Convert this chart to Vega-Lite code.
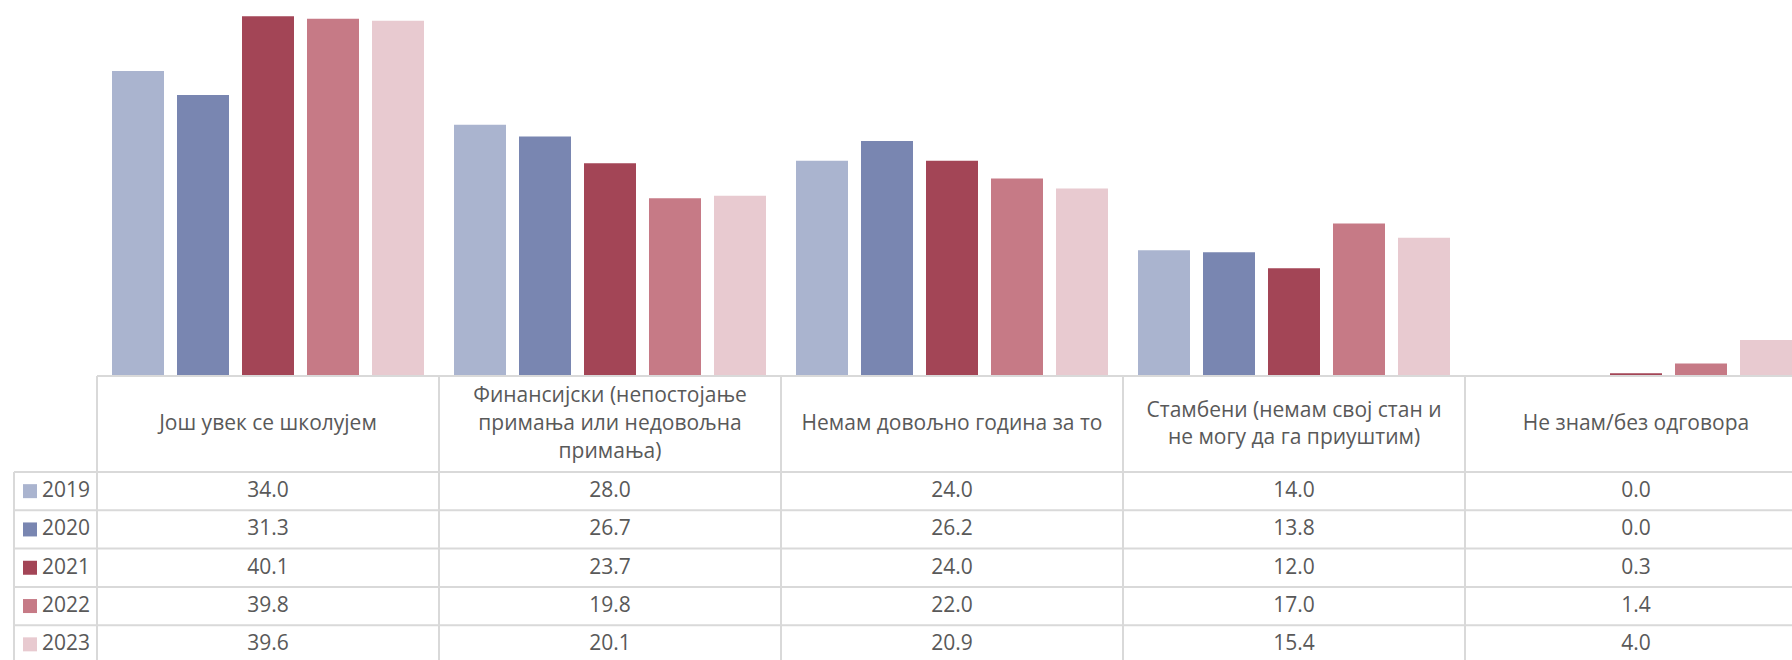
{
  "$schema": "https://vega.github.io/schema/vega-lite/v6.json",
  "padding": {"left": 13, "top": 0, "right": 0, "bottom": 0},
  "config": {"view": {"stroke": null}, "concat": {"spacing": 0}},
  "datasets": {
    "d": [
      {"cat": "Још увек се школујем", "year": "2019", "value": 34.0},
      {"cat": "Још увек се школујем", "year": "2020", "value": 31.3},
      {"cat": "Још увек се школујем", "year": "2021", "value": 40.1},
      {"cat": "Још увек се школујем", "year": "2022", "value": 39.8},
      {"cat": "Још увек се школујем", "year": "2023", "value": 39.6},
      {"cat": "Финансијски (непостојање примања или недовољна примања)", "year": "2019", "value": 28.0},
      {"cat": "Финансијски (непостојање примања или недовољна примања)", "year": "2020", "value": 26.7},
      {"cat": "Финансијски (непостојање примања или недовољна примања)", "year": "2021", "value": 23.7},
      {"cat": "Финансијски (непостојање примања или недовољна примања)", "year": "2022", "value": 19.8},
      {"cat": "Финансијски (непостојање примања или недовољна примања)", "year": "2023", "value": 20.1},
      {"cat": "Немам довољно година за то", "year": "2019", "value": 24.0},
      {"cat": "Немам довољно година за то", "year": "2020", "value": 26.2},
      {"cat": "Немам довољно година за то", "year": "2021", "value": 24.0},
      {"cat": "Немам довољно година за то", "year": "2022", "value": 22.0},
      {"cat": "Немам довољно година за то", "year": "2023", "value": 20.9},
      {"cat": "Стамбени (немам свој стан и не могу да га приуштим)", "year": "2019", "value": 14.0},
      {"cat": "Стамбени (немам свој стан и не могу да га приуштим)", "year": "2020", "value": 13.8},
      {"cat": "Стамбени (немам свој стан и не могу да га приуштим)", "year": "2021", "value": 12.0},
      {"cat": "Стамбени (немам свој стан и не могу да га приуштим)", "year": "2022", "value": 17.0},
      {"cat": "Стамбени (немам свој стан и не могу да га приуштим)", "year": "2023", "value": 15.4},
      {"cat": "Не знам/без одговора", "year": "2019", "value": 0.0},
      {"cat": "Не знам/без одговора", "year": "2020", "value": 0.0},
      {"cat": "Не знам/без одговора", "year": "2021", "value": 0.3},
      {"cat": "Не знам/без одговора", "year": "2022", "value": 1.4},
      {"cat": "Не знам/без одговора", "year": "2023", "value": 4.0}
    ],
    "cats": [
      {"cat": "Још увек се школујем", "label": "Још увек се школујем"},
      {"cat": "Финансијски (непостојање примања или недовољна примања)", "label": "Финансијски (непостојање\nпримања или недовољна\nпримања)"},
      {"cat": "Немам довољно година за то", "label": "Немам довољно година за то"},
      {"cat": "Стамбени (немам свој стан и не могу да га приуштим)", "label": "Стамбени (немам свој стан и\nне могу да га приуштим)"},
      {"cat": "Не знам/без одговора", "label": "Не знам/без одговора"}
    ],
    "years": [
      {"year": "2019"}, {"year": "2020"}, {"year": "2021"}, {"year": "2022"}, {"year": "2023"}
    ]
  },
  "columns": 2,
  "spacing": 0,
  "bounds": "flush",
  "resolve": {"scale": {"x": "independent", "y": "independent", "color": "independent", "xOffset": "independent"}},
  "concat": [
    {
      "width": 83, "height": 376,
      "data": {"values": [{}]},
      "mark": {"type": "text", "text": ""},
      "encoding": {}
    },
    {
      "width": 1696, "height": 376,
      "data": {"name": "d"},
      "mark": {"type": "bar"},
      "encoding": {
        "x": {"field": "cat", "type": "nominal", "sort": null, "axis": null,
              "scale": {"type": "band", "range": [0, 1710], "paddingInner": 0, "paddingOuter": 0}},
        "xOffset": {"field": "year", "type": "nominal", "sort": null,
              "scale": {"paddingInner": 0.2, "paddingOuter": 0.2308}},
        "y": {"field": "value", "type": "quantitative", "axis": null, "scale": {"domain": [0, 41.9]}},
        "color": {"field": "year", "type": "nominal", "legend": null,
              "scale": {"domain": ["2019", "2020", "2021", "2022", "2023"],
                        "range": ["#AAB4CF", "#7986B1", "#A34556", "#C67A86", "#E8CAD0"]}}
      }
    },
    {
      "width": 83, "height": 96,
      "data": {"values": [{}]},
      "mark": {"type": "text", "text": ""},
      "encoding": {}
    },
    {
      "width": 1696, "height": 96,
      "layer": [
        {
          "data": {"name": "cats"},
          "mark": {"type": "rule", "color": "#d9d9d9", "strokeWidth": 2},
          "encoding": {
            "x": {"field": "cat", "type": "nominal", "sort": null, "axis": null, "bandPosition": 0,
                  "scale": {"type": "band", "range": [0, 1710], "paddingInner": 0, "paddingOuter": 0}}
          }
        },
        {
          "data": {"values": [{}]},
          "mark": {"type": "rule", "color": "#d9d9d9", "strokeWidth": 2},
          "encoding": {
            "y": {"datum": "top", "type": "nominal", "axis": null, "bandPosition": 0,
                  "scale": {"type": "band", "paddingInner": 0, "paddingOuter": 0}}
          }
        },
        {
          "data": {"name": "cats"},
          "transform": [{"filter": "length(split(datum.label, '\\n')) == 1"}],
          "mark": {"type": "text", "lineBreak": "\n", "lineHeight": 28, "font": "Open Sans", "fontSize": 21, "color": "#595959"},
          "encoding": {
            "x": {"field": "cat", "type": "nominal", "sort": null, "axis": null,
                  "scale": {"type": "band", "range": [0, 1710], "paddingInner": 0, "paddingOuter": 0}},
            "text": {"field": "label", "type": "nominal"}
          }
        },
        {
          "data": {"name": "cats"},
          "transform": [{"filter": "length(split(datum.label, '\\n')) == 2"}],
          "mark": {"type": "text", "lineBreak": "\n", "lineHeight": 27, "dy": -13, "font": "Open Sans", "fontSize": 21, "color": "#595959"},
          "encoding": {
            "x": {"field": "cat", "type": "nominal", "sort": null, "axis": null,
                  "scale": {"type": "band", "range": [0, 1710], "paddingInner": 0, "paddingOuter": 0}},
            "text": {"field": "label", "type": "nominal"}
          }
        },
        {
          "data": {"name": "cats"},
          "transform": [{"filter": "length(split(datum.label, '\\n')) == 3"}],
          "mark": {"type": "text", "lineBreak": "\n", "lineHeight": 28, "dy": -28, "font": "Open Sans", "fontSize": 21, "color": "#595959"},
          "encoding": {
            "x": {"field": "cat", "type": "nominal", "sort": null, "axis": null,
                  "scale": {"type": "band", "range": [0, 1710], "paddingInner": 0, "paddingOuter": 0}},
            "text": {"field": "label", "type": "nominal"}
          }
        }
      ]
    },
    {
      "width": 83, "height": 188,
      "layer": [
        {
          "data": {"values": [{}]},
          "mark": {"type": "rule", "color": "#d9d9d9", "strokeWidth": 2},
          "encoding": {
            "x": {"datum": "c", "type": "nominal", "axis": null, "bandPosition": 0,
                  "scale": {"type": "band", "paddingInner": 0, "paddingOuter": 0}}
          }
        },
        {
          "data": {"name": "years"},
          "mark": {"type": "rule", "color": "#d9d9d9", "strokeWidth": 2},
          "encoding": {
            "y": {"field": "year", "type": "nominal", "sort": null, "axis": null, "bandPosition": 0,
                  "scale": {"type": "band", "range": [0, 191.5], "paddingInner": 0, "paddingOuter": 0}}
          }
        },
        {
          "data": {"name": "years"},
          "mark": {"type": "square", "size": 196, "filled": true, "opacity": 1, "xOffset": -25.5},
          "encoding": {
            "y": {"field": "year", "type": "nominal", "sort": null, "axis": null,
                  "scale": {"type": "band", "range": [0, 191.5], "paddingInner": 0, "paddingOuter": 0}},
            "color": {"field": "year", "type": "nominal", "legend": null,
                  "scale": {"domain": ["2019", "2020", "2021", "2022", "2023"],
                            "range": ["#AAB4CF", "#7986B1", "#A34556", "#C67A86", "#E8CAD0"]}}
          }
        },
        {
          "data": {"name": "years"},
          "mark": {"type": "text", "align": "left", "xOffset": -13.5, "font": "Open Sans", "fontSize": 21, "color": "#595959"},
          "encoding": {
            "y": {"field": "year", "type": "nominal", "sort": null, "axis": null,
                  "scale": {"type": "band", "range": [0, 191.5], "paddingInner": 0, "paddingOuter": 0}},
            "text": {"field": "year", "type": "nominal"}
          }
        }
      ]
    },
    {
      "width": 1696, "height": 188,
      "layer": [
        {
          "data": {"name": "cats"},
          "mark": {"type": "rule", "color": "#d9d9d9", "strokeWidth": 2},
          "encoding": {
            "x": {"field": "cat", "type": "nominal", "sort": null, "axis": null, "bandPosition": 0,
                  "scale": {"type": "band", "range": [0, 1710], "paddingInner": 0, "paddingOuter": 0}}
          }
        },
        {
          "data": {"name": "years"},
          "mark": {"type": "rule", "color": "#d9d9d9", "strokeWidth": 2},
          "encoding": {
            "y": {"field": "year", "type": "nominal", "sort": null, "axis": null, "bandPosition": 0,
                  "scale": {"type": "band", "range": [0, 191.5], "paddingInner": 0, "paddingOuter": 0}}
          }
        },
        {
          "data": {"name": "d"},
          "mark": {"type": "text", "font": "Open Sans", "fontSize": 21, "color": "#595959"},
          "encoding": {
            "x": {"field": "cat", "type": "nominal", "sort": null, "axis": null,
                  "scale": {"type": "band", "range": [0, 1710], "paddingInner": 0, "paddingOuter": 0}},
            "y": {"field": "year", "type": "nominal", "sort": null, "axis": null,
                  "scale": {"type": "band", "range": [0, 191.5], "paddingInner": 0, "paddingOuter": 0}},
            "text": {"field": "value", "type": "quantitative", "format": ".1f"}
          }
        }
      ]
    }
  ]
}
